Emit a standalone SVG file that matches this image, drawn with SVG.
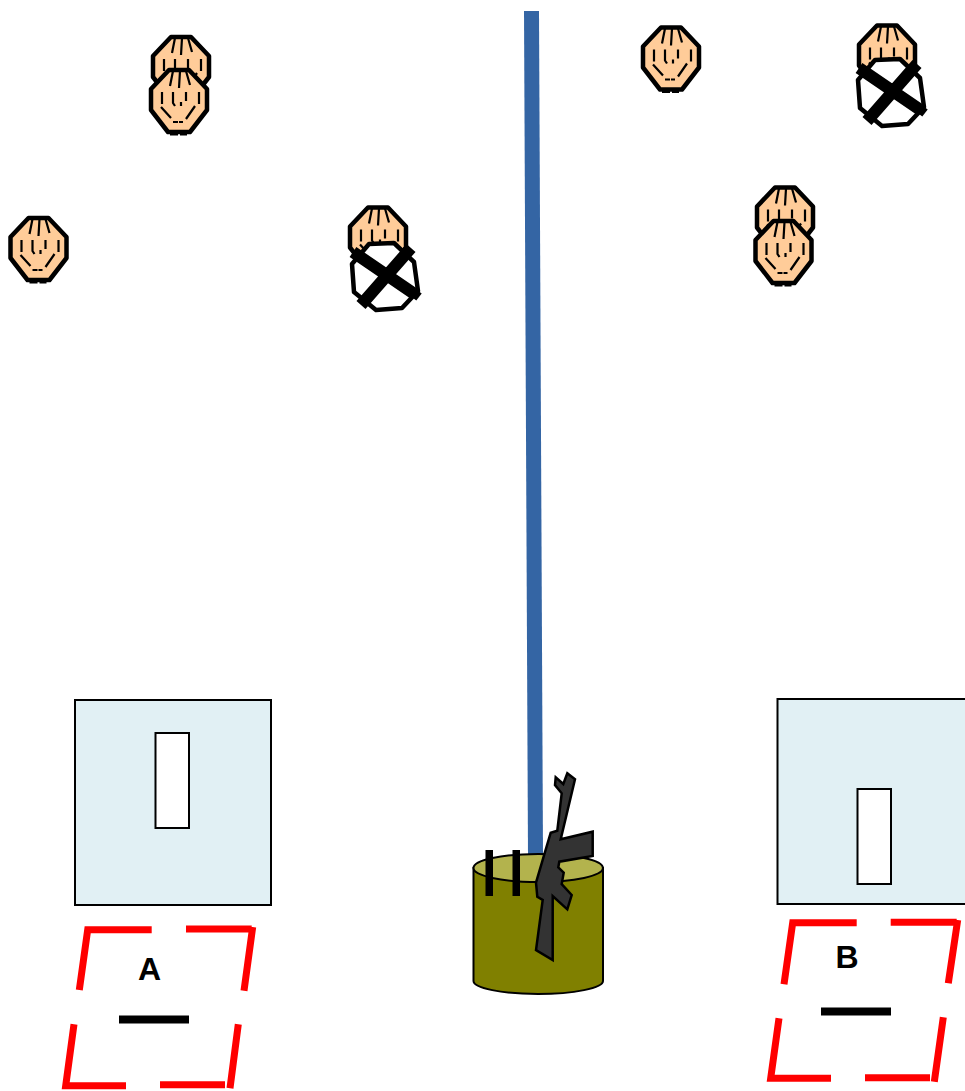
<svg xmlns="http://www.w3.org/2000/svg" xmlns:xlink="http://www.w3.org/1999/xlink" width="965" height="1091" viewBox="0 0 965 1091">
<style>
.skull{fill:#ffcc99;stroke:#000;stroke-width:4.500;stroke-linejoin:round}
.mark{fill:none;stroke:#000;stroke-width:2.200}
.blank{fill:#fff;stroke:#000;stroke-width:4.500;stroke-linejoin:round}
.xline{fill:none;stroke:#000;stroke-width:12}
.xend{fill:none;stroke:#000;stroke-width:9}
.panel{fill:#e1f0f4;stroke:#000;stroke-width:2}
.slot{fill:#fff;stroke:#000;stroke-width:2}
.red{fill:none;stroke:#f00;stroke-width:7}
.lbl{font-family:"Liberation Sans",Arial,sans-serif;font-size:32px;font-weight:bold;fill:#000;text-anchor:middle}
</style>
<defs>
<g id="head">
<path class="skull" d="M-10,-31L10,-31L28,-12L28,9L11,31L-11,31L-28,9L-28,-12Z"/>
<path class="mark" d="M-6,-30L-9,-15M1,-30L0,-13M7,-30L11,-16M-17,-9L-17,3M-6,-9L-6,2L-4,5M7,-9L7,0M2,1L2,5M20,-9L20,3M-18,6L-8,17M16,5L7,18M-6,21L-1,21M0,21L4,21M-9,33.500L-1,33.500M1,33.500L8,33.500"/>
</g>
<g id="cross">
<path class="blank" d="M-16,-32L9,-33L29,-14L33,15L17,32L-9,34L-31,16L-33,-12Z"/>
<path class="xline" d="M-32,-24L28,17M26,-28L-24,29"/>
<path class="xend" d="M26,15L34,21"/>
</g>
</defs>
<g id="connectors">
<path d="M531.500,11L535.500,856" fill="none" stroke="#3465a4" stroke-width="15"/>
</g>
<g id="head-1"><use xlink:href="#head" x="181" y="68"/></g>
<g id="head-2"><use xlink:href="#head" x="179" y="101"/></g>
<g id="head-3"><use xlink:href="#head" x="38.500" y="249"/></g>
<g id="head-4"><use xlink:href="#head" x="378" y="238.500"/></g>
<g id="cross-1"><use xlink:href="#cross" x="385" y="276"/></g>
<g id="head-5"><use xlink:href="#head" x="671" y="58.500"/></g>
<g id="head-6"><use xlink:href="#head" x="887" y="56.500"/></g>
<g id="cross-2"><use xlink:href="#cross" x="891" y="92"/></g>
<g id="head-7"><use xlink:href="#head" x="785" y="218.500"/></g>
<g id="head-8"><use xlink:href="#head" x="783.500" y="252"/></g>
<g id="panel-a">
<rect class="panel" x="75" y="700" width="196" height="205"/>
<rect class="slot" x="155.500" y="733" width="33.500" height="95"/>
</g>
<g id="panel-b">
<rect class="panel" x="777.500" y="699" width="196" height="205"/>
<rect class="slot" x="857.500" y="789" width="33.500" height="95"/>
</g>
<g id="zone-a">
<path class="red" d="M79.300,990L87.700,929.700L151.700,929.700M186,929L251.700,929M252.700,927L244,990.700M74,1024.300L65.700,1085.700L126,1085.700M160,1084.700L225,1084.700M238.300,1024.300L230,1088.300"/>
<rect x="119" y="1015.500" width="70" height="8"/>
<text class="lbl" x="149.500" y="980">A</text>
</g>
<g id="zone-b">
<path class="red" d="M784,984.300L792.700,922.700L856.700,922.700M890.700,922.300L956.700,922.300M957.700,920L948.300,983.300M779,1018.300L770.700,1078.300L831,1078.300M865,1077.700L930,1077.700M943.300,1017.300L934.300,1081.700"/>
<rect x="821" y="1007.500" width="70" height="8"/>
<text class="lbl" x="847" y="968">B</text>
</g>
<g id="barrel">
<path d="M473.500,868V981C473.500,988 502,994 538,994C574,994 603,988 603,981V868Z" fill="#808000" stroke="#000" stroke-width="2"/>
<ellipse cx="538.200" cy="868" rx="64.700" ry="14" fill="#b3b34d" stroke="#000" stroke-width="2"/>
<rect x="485.500" y="850" width="7.500" height="46"/>
<rect x="512.500" y="850" width="7.500" height="46"/>
<path d="M567.300,773.300L575,779.300L560.700,839.300L592.700,831.700V856L559.300,861.700L558.300,867.300L563.700,872.700L561.700,884L571.700,895L567.300,909.300L552.700,896V960L536,950L542.700,900L537.300,896.700L536,882.700L550.700,832.700L557.300,830.700L561.700,793.300L555,785L555.700,777.300L563.300,784Z" fill="#333" stroke="#000" stroke-width="2.500"/>
</g>
</svg>
